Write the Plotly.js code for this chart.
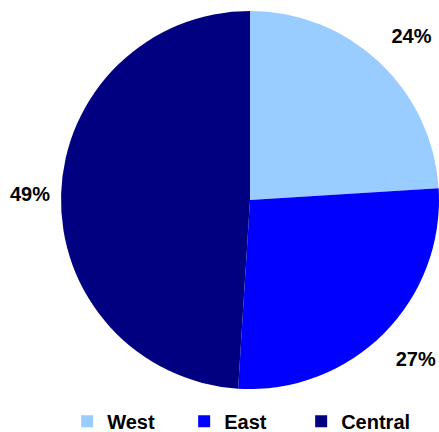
<!DOCTYPE html>
<html>
<head>
<meta charset="utf-8">
<script src="https://cdn.plot.ly/plotly-3.0.1.min.js"></script>
<style>html,body{margin:0;padding:0;background:#fff;}#chart{width:439px;height:432px;}</style>
</head>
<body>
<div id="chart"></div>
<script>
var regions = ["West", "East", "Central"];
var shares = [24, 27, 49];
var colors = ["#99CCFF", "#0000FF", "#000080"];

var trace = {
  type: "pie",
  labels: regions,
  values: shares,
  sort: false,
  direction: "clockwise",
  rotation: 0,
  marker: {colors: colors, line: {width: 0}},
  textinfo: "percent",
  texttemplate: ["%{percent:.0%}<br> ", " <br>%{percent:.0%}", "%{percent:.0%}\u00a0"],
  textposition: "outside",
  textfont: {family: "Liberation Sans, Arial, sans-serif", size: 20, color: "#000", weight: "bold"},
  domain: {x: [61/439, 1], y: [42/432, 422/432]},
  hoverinfo: "none"
};

var layout = {
  width: 439, height: 432,
  margin: {l: 0, r: 0, t: 0, b: 0, autoexpand: false},
  paper_bgcolor: "#fff",
  showlegend: true,
  legend: {
    orientation: "h",
    x: 0.153, xanchor: "left",
    y: -0.02, yanchor: "bottom",
    entrywidth: 72,
    entrywidthmode: "pixels",
    font: {family: "Liberation Sans, Arial, sans-serif", size: 20, color: "#000", weight: "bold"},
    itemwidth: 30
  }
};

Plotly.newPlot("chart", [trace], layout, {displayModeBar: false, staticPlot: true});
</script>
</body>
</html>
